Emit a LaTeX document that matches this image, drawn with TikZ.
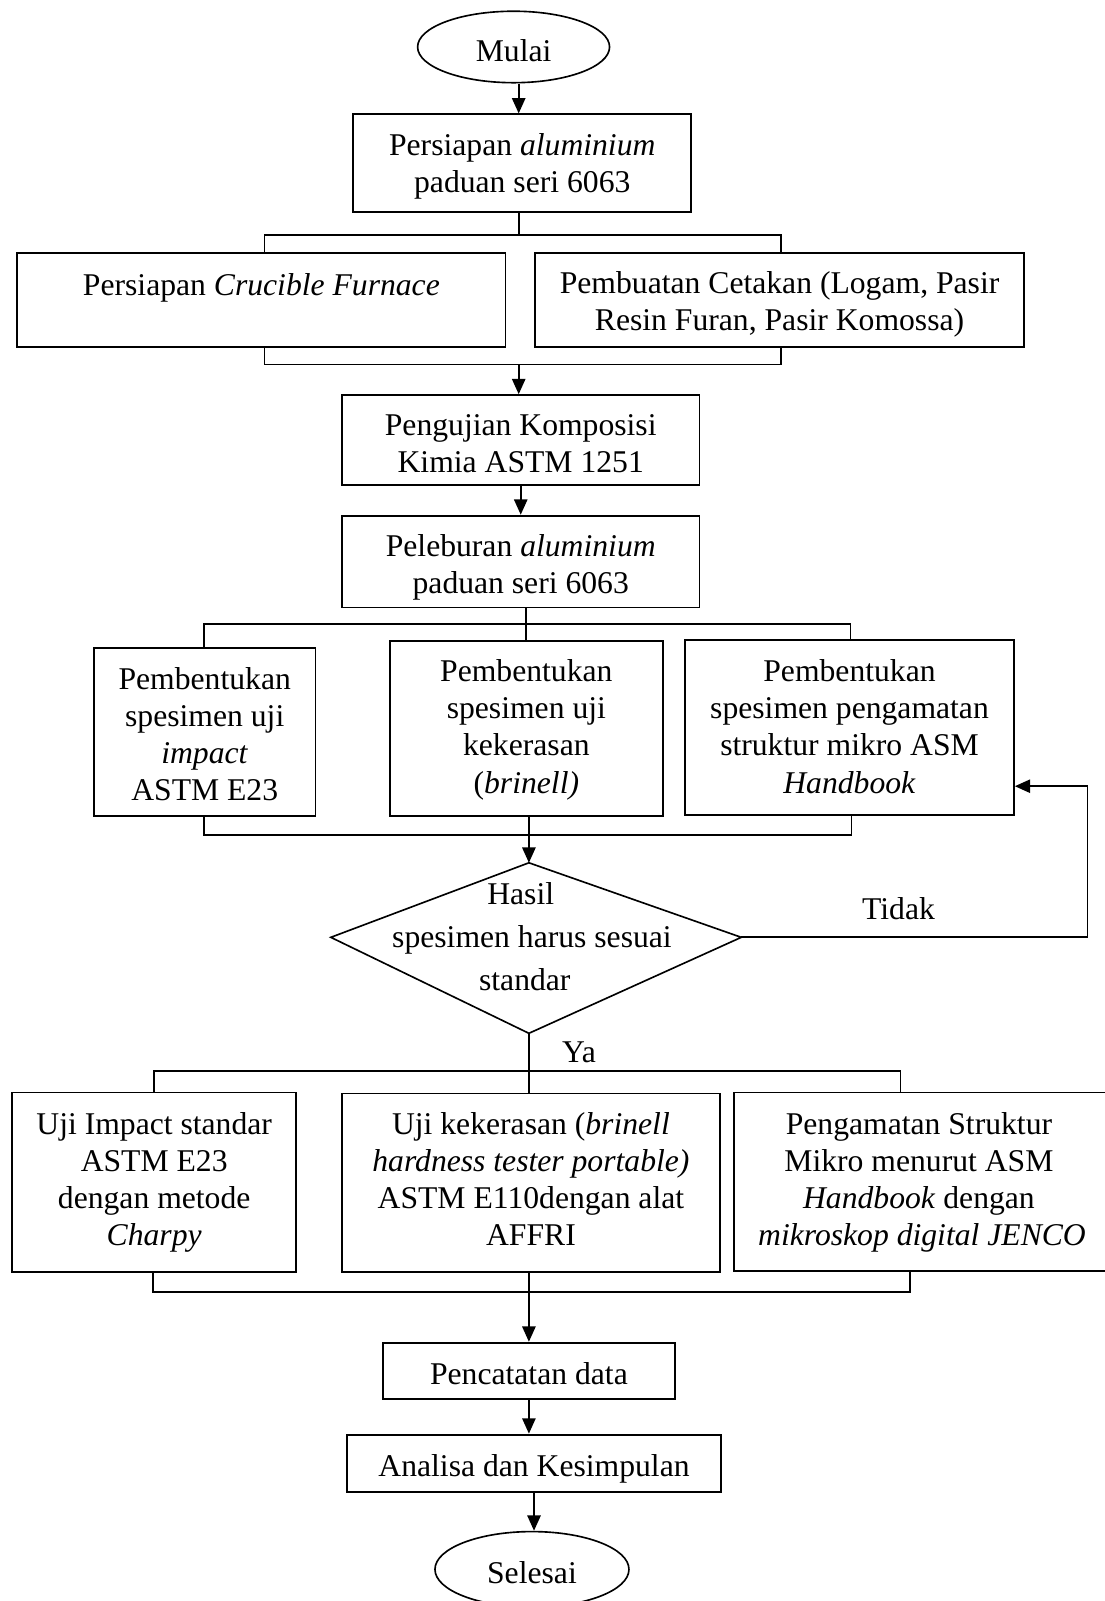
\documentclass[tikz,border=0pt]{standalone}
\usepackage{fontspec}
\setmainfont{Liberation Serif}
\usetikzlibrary{arrows.meta,shapes.geometric}
\newcommand\tsTop[1]{\rule{0pt}{\dimexpr30pt+#1pt\relax}}
\newcommand\tsBot[1]{\rule[\dimexpr-14pt+#1pt\relax]{0pt}{1pt}}
\begin{document}
\begin{tikzpicture}[x=1pt,y=-1pt,
  every node/.style={font=\fontsize{31}{36.3}\selectfont, inner sep=0pt},
  box/.style={draw, rectangle, line width=1.8pt, align=center},
  term/.style={draw, ellipse, line width=1.6pt, align=center},
  line/.style={line width=1.8pt},
  arr/.style={line width=1.8pt, -{Triangle[length=15pt,width=13pt]}},
  lbl/.style={align=center}]
\useasboundingbox (0,0) rectangle (1082,1568);

% nodes
\node[term, minimum width=188, minimum height=70] (start) at (503,46) {\tsTop{6.4}Mulai\tsBot{6.4}};
\node[box, minimum width=331, minimum height=96] (b1) at (511.5,160)
  {\tsTop{2.5}Persiapan \textit{aluminium}\\ paduan seri 6063\tsBot{2.5}};
\node[box, minimum width=478, minimum height=92] (b2) at (256,294)
  {\tsTop{5.5}Persiapan \textit{Crucible Furnace}\\ \mbox{}\tsBot{5.5}};
\node[box, minimum width=479, minimum height=92] (b3) at (763.5,294)
  {\tsTop{3.75}Pembuatan Cetakan (Logam, Pasir\\ Resin Furan, Pasir Komossa)\tsBot{3.75}};
\node[box, minimum width=350, minimum height=88] (b4) at (510,431)
  {\tsTop{5.5}Pengujian Komposisi\\ Kimia ASTM 1251\tsBot{5.5}};
\node[box, minimum width=350, minimum height=90] (b5) at (510,550)
  {\tsTop{5.5}Peleburan \textit{aluminium}\\ paduan seri 6063\tsBot{5.5}};
\node[box, minimum width=217, minimum height=164] (b6) at (200.5,717)
  {\tsTop{4.25}Pembentukan\\ spesimen uji\\ \textit{impact}\\ ASTM E23\tsBot{4.25}};
\node[box, minimum width=267, minimum height=171] (b7) at (515.5,713.5)
  {\tsTop{0.75}Pembentukan\\ spesimen uji\\ kekerasan\\ (\textit{brinell)}\tsBot{0.75}};
\node[box, minimum width=322, minimum height=171] (b8) at (832,712.5)
  {\tsTop{1.75}Pembentukan\\ spesimen pengamatan\\ struktur mikro ASM\\ \textit{Handbook}\tsBot{1.75}};

% decision
\coordinate (dT) at (518,845);
\coordinate (dR) at (726,918);
\coordinate (dB) at (518,1012);
\coordinate (dL) at (324,918);
\draw[line width=1.6pt] (dT) -- (dR) -- (dB) -- (dL) -- cycle;
\node[lbl, font=\fontsize{31}{42}\selectfont] (dtext) at (517,917)
  {Hasil\hspace*{14pt}\\ \hspace*{8pt}spesimen harus sesuai\\ standar\hspace*{6pt}};

\node[box, minimum width=278, minimum height=176] (b9) at (151,1158)
  {\tsTop{-0.75}Uji Impact standar\\ ASTM E23\\ dengan metode\\ \textit{Charpy}\tsBot{-0.75}};
\node[box, minimum width=370, minimum height=175] (b10) at (520,1158.5)
  {\tsTop{-1.25}Uji kekerasan (\textit{brinell}\\ \textit{hardness tester portable)}\\ ASTM E110dengan alat\\ AFFRI\tsBot{-1.25}};
\node[box, minimum width=372, minimum height=175] (b11) at (905,1157.5)
  {\tsTop{-0.25}\hspace*{-10pt}Pengamatan Struktur\\ \hspace*{-10pt}Mikro menurut ASM\\ \hspace*{-10pt}\textit{Handbook} dengan\\ \hspace*{-4pt}\textit{mikroskop digital JENCO}\tsBot{-0.25}};
\node[box, minimum width=286, minimum height=55] (b12) at (518,1342.5) {\tsTop{5.25}Pencatatan data\tsBot{5.25}};
\node[box, minimum width=366, minimum height=56] (b13) at (523,1433) {\tsTop{4.75}Analisa dan Kesimpulan\tsBot{4.75}};
\node[term, minimum width=190, minimum height=74] (end) at (521,1537) {\tsTop{5.75}Selesai\tsBot{5.75}};

% labels
\node (tidak) at (880,890) {Tidak};
\node (ya) at (567,1031) {Ya};

% junction coordinates
\coordinate (f1L) at (259,230);
\coordinate (f1M) at (508,230);
\coordinate (f1R) at (765,230);
\coordinate (g1L) at (259,357);
\coordinate (g1M) at (508,357);
\coordinate (g1R) at (765,357);
\coordinate (f2L) at (200,611);
\coordinate (f2M) at (515,611);
\coordinate (f2R) at (833,611);
\coordinate (g2L) at (200,818);
\coordinate (g2M) at (518,818);
\coordinate (g2R) at (834,818);
\coordinate (t1) at (1065,918);
\coordinate (t2) at (1065,770);
\coordinate (f3L) at (151,1049);
\coordinate (f3R) at (882,1049);
\coordinate (g3L) at (150,1265);
\coordinate (g3M) at (518,1265);
\coordinate (g3R) at (891,1265);

% connectors
\draw[arr] (f1M |- start.south) -- (f1M |- b1.north);
\draw[line] (f1M |- b1.south) -- (f1M);
\draw[line] (f1L |- b2.north) -- (f1L) -- (f1R) -- (f1R |- b3.north);
\draw[line] (g1L |- b2.south) -- (g1L) -- (g1R) -- (g1R |- b3.south);
\draw[arr] (g1M) -- (g1M |- b4.north);
\draw[arr] (b4.south) -- (b5.north);
\draw[line] (f2M |- b5.south) -- (f2M |- b7.north);
\draw[line] (f2L |- b6.north) -- (f2L) -- (f2R) -- (f2R |- b8.north);
\draw[line] (g2L |- b6.south) -- (g2L) -- (g2R) -- (g2R |- b8.south);
\draw[line] (g2M |- b7.south) -- (g2M);
\draw[arr] (g2M) -- (dT);
\draw[arr] (dR) -- (t1) -- (t2) -- (t2 -| b8.east);
\draw[line] (dB) -- (dB |- b10.north);
\draw[line] (f3L |- b9.north) -- (f3L) -- (f3R) -- (f3R |- b11.north);
\draw[line] (g3L |- b9.south) -- (g3L) -- (g3R) -- (g3R |- b11.south);
\draw[arr] (g3M |- b10.south) -- (g3M |- b12.north);
\draw[arr] (b12.south) -- (b12.south |- b13.north);
\draw[arr] (b13.south) -- (b13.south |- end.north);
\end{tikzpicture}
\end{document}
